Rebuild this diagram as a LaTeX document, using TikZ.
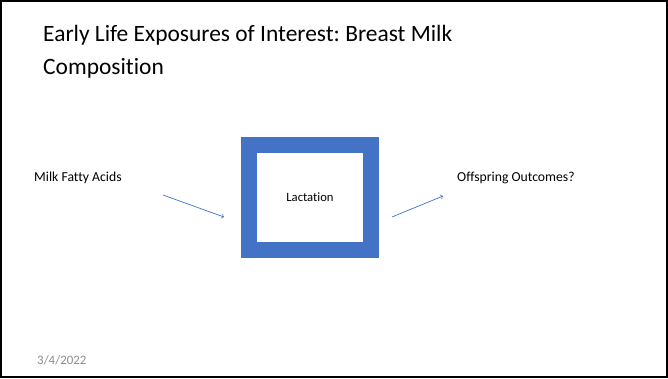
\documentclass[tikz,border=0pt]{standalone}
\usepackage{fontspec}
\setmainfont[Ligatures=NoCommon]{Carlito}
\frenchspacing
\definecolor{boxblue}{HTML}{4472C4}
\definecolor{dategray}{HTML}{8C8C8C}
\tikzset{
  label/.style={anchor=west, inner sep=0pt, font=\fontsize{11.7}{14}\selectfont},
  flow/.style={->, boxblue, line width=0.6pt}
}
\begin{document}
\begin{tikzpicture}[x=0.03cm, y=-0.03cm]
    \useasboundingbox (0,0) rectangle (668,378);
    % slide frame
    \draw[line width=1.8pt] (1,1) rectangle (667,377);

    % title
    \node[anchor=north west, inner sep=0pt, align=left,
          font=\fontsize{20}{28.2}\selectfont] (title) at (43,25)
        {Early Life Exposures of Interest: Breast Milk\\Composition};

    % lactation box
    \node[draw=boxblue, line width=13.6pt, fill=white,
          minimum width=3.66cm, minimum height=3.15cm, inner sep=0pt,
          font=\fontsize{10.8}{12}\selectfont] (lact) at (310,197.5) {Lactation};

    % input and output
    \node[label] (milk) at (34,178) {Milk Fatty Acids};
    \node[label] (offspring) at (457,178) {Offspring Outcomes?};

    % arrows
    \coordinate (inA) at (163,195);
    \coordinate (inB) at (224,217);
    \coordinate (outA) at (392,217);
    \coordinate (outB) at (443,196);
    \draw[flow] (inA) -- (inB);
    \draw[flow] (outA) -- (outB);

    % date
    \node[label, dategray, font=\fontsize{11}{12}\selectfont] (date) at (37,360) {3/4/2022};
\end{tikzpicture}
\end{document}
